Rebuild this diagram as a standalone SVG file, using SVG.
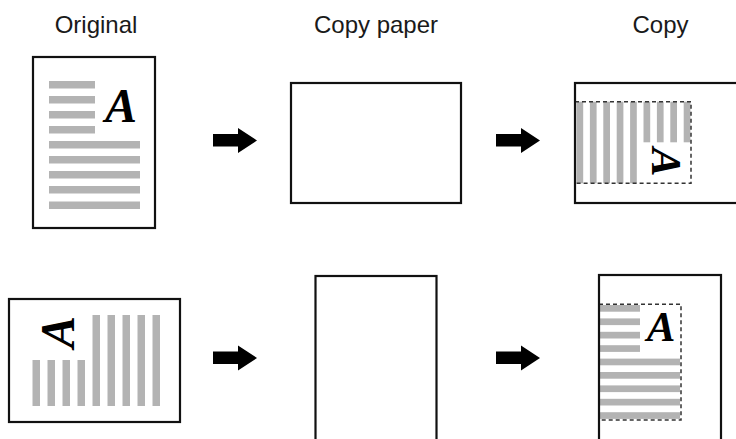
<svg xmlns="http://www.w3.org/2000/svg" xmlns:xlink="http://www.w3.org/1999/xlink" width="736" height="439" viewBox="0 0 736 439">
<style>
.label{font-family:"Liberation Sans",Arial,sans-serif;font-size:24px;fill:#1a1a1a;text-anchor:middle}
.page{fill:#fff;stroke:#111;stroke-width:2.2}
.bar{fill:#b3b3b3}
.crop{fill:none;stroke:#333;stroke-width:1.5;stroke-dasharray:4 3}
.glyph{font-family:"Liberation Serif","DejaVu Serif",serif;font-style:italic;font-weight:bold;fill:#000;text-anchor:middle}
.arrow{fill:#000}
</style>
<defs>
<path id="arr" d="M0,6 H25 V0 L44,12.5 L25,25 V18.5 H0 Z"/>
</defs>
<rect width="736" height="439" fill="#fff"/>

<g id="labels">
<text class="label" x="96" y="33">Original</text>
<text class="label" x="376" y="33">Copy paper</text>
<text class="label" x="660.5" y="33">Copy</text>
</g>

<g id="original-portrait">
<rect class="page" x="33" y="57" width="122" height="171"/>
<rect class="bar" x="49" y="81" width="46" height="7.5"/>
<rect class="bar" x="49" y="96" width="46" height="7.5"/>
<rect class="bar" x="49" y="111" width="46" height="7.5"/>
<rect class="bar" x="49" y="126" width="46" height="7.5"/>
<rect class="bar" x="49" y="141" width="91" height="7.5"/>
<rect class="bar" x="49" y="156" width="91" height="7.5"/>
<rect class="bar" x="49" y="171" width="91" height="7.5"/>
<rect class="bar" x="49" y="186" width="91" height="7.5"/>
<rect class="bar" x="49" y="201.5" width="91" height="7.5"/>
<text class="glyph" x="121" y="121.5" font-size="48">A</text>
</g>

<g id="copy-paper-landscape">
<rect class="page" x="291" y="83" width="170" height="120"/>
</g>

<g id="copy-landscape">
<rect fill="#fff" x="575" y="83" width="200" height="120"/>
<rect class="bar" x="576.5" y="101.7" width="6.7" height="81.6"/>
<rect class="bar" x="589.9" y="101.7" width="6.7" height="81.6"/>
<rect class="bar" x="603.3" y="101.7" width="6.7" height="81.6"/>
<rect class="bar" x="616.7" y="101.7" width="6.7" height="81.6"/>
<rect class="bar" x="630.1" y="101.7" width="6.7" height="81.6"/>
<rect class="bar" x="643.5" y="101.7" width="6.7" height="40.6"/>
<rect class="bar" x="656.9" y="101.7" width="6.7" height="40.6"/>
<rect class="bar" x="670.3" y="101.7" width="6.7" height="40.6"/>
<rect class="bar" x="683.7" y="101.7" width="6.7" height="40.6"/>
<text class="glyph" font-size="43" transform="translate(666,162) rotate(90)" x="0" y="14">A</text>
<rect class="crop" x="575" y="101.7" width="116" height="81.6"/>
<rect class="page" fill="none" x="575" y="83" width="200" height="120" style="fill:none"/>
</g>

<g id="original-landscape">
<rect class="page" x="9" y="299" width="171" height="123"/>
<rect class="bar" x="32.5" y="360" width="7.5" height="46"/>
<rect class="bar" x="47.5" y="360" width="7.5" height="46"/>
<rect class="bar" x="62.5" y="360" width="7.5" height="46"/>
<rect class="bar" x="77.5" y="360" width="7.5" height="46"/>
<rect class="bar" x="92.5" y="315" width="7.5" height="91"/>
<rect class="bar" x="107.5" y="315" width="7.5" height="91"/>
<rect class="bar" x="122.5" y="315" width="7.5" height="91"/>
<rect class="bar" x="137.5" y="315" width="7.5" height="91"/>
<rect class="bar" x="152.5" y="315" width="7.5" height="91"/>
<text class="glyph" font-size="48" transform="translate(58,332) rotate(-90)" x="0" y="16">A</text>
</g>

<g id="copy-paper-portrait">
<rect class="page" x="315.5" y="276" width="121" height="200"/>
</g>

<g id="copy-portrait">
<rect fill="#fff" x="599" y="275" width="122" height="200"/>
<rect class="bar" x="600" y="305" width="40" height="6.7"/>
<rect class="bar" x="600" y="318.4" width="40" height="6.7"/>
<rect class="bar" x="600" y="331.8" width="40" height="6.7"/>
<rect class="bar" x="600" y="345.2" width="40" height="6.7"/>
<rect class="bar" x="600" y="358.6" width="80" height="6.7"/>
<rect class="bar" x="600" y="372" width="80" height="6.7"/>
<rect class="bar" x="600" y="385.4" width="80" height="6.7"/>
<rect class="bar" x="600" y="398.8" width="80" height="6.7"/>
<rect class="bar" x="600" y="412.2" width="80" height="6.7"/>
<text class="glyph" x="661" y="341" font-size="43">A</text>
<rect class="crop" x="599" y="304.3" width="82" height="115.7"/>
<rect class="page" x="599" y="275" width="122" height="200" style="fill:none"/>
</g>

<g id="connectors">
<use class="arrow" xlink:href="#arr" href="#arr" x="213" y="128"/>
<use class="arrow" xlink:href="#arr" href="#arr" x="496" y="128"/>
<use class="arrow" xlink:href="#arr" href="#arr" x="213" y="345.5"/>
<use class="arrow" xlink:href="#arr" href="#arr" x="496" y="345.5"/>
</g>
</svg>
